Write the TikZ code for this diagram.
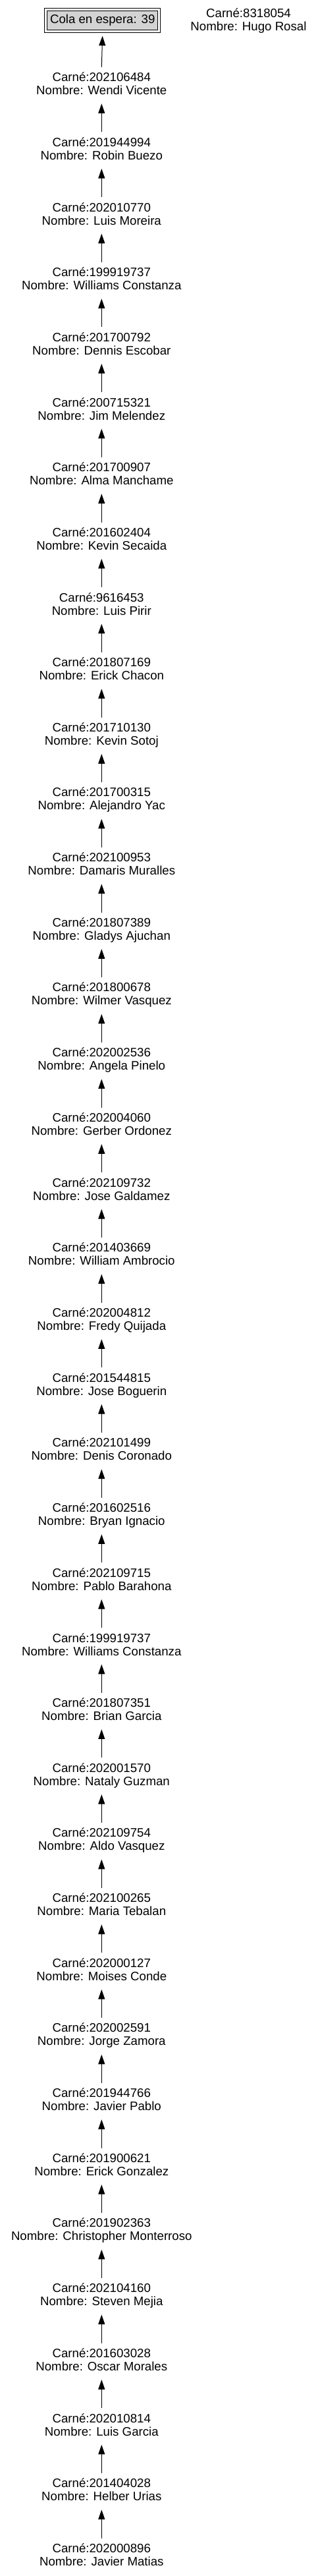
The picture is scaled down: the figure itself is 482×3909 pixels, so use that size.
\documentclass[tikz,border=0pt]{standalone}
\usepackage{fontspec}
\setmainfont{Liberation Sans}
\usetikzlibrary{arrows.meta}
\definecolor{boxgray}{HTML}{D3D3D3}
\newcommand\pline[1]{\rule[-2.5pt]{0pt}{15pt}#1}
\tikzset{
  txt/.style={font=\fontsize{14pt}{15pt}\selectfont},
  person/.style={txt, inner sep=0pt, minimum height=37.5pt, align=center},
  link/.style={-{Triangle[length=11pt,width=7.5pt]}, line width=0.75pt, shorten >=3.75pt},
  frame/.style={draw, line width=0.75pt, inner sep=0pt},
}
\begin{document}
\begin{tikzpicture}[x=0.75pt,y=-0.75pt]
\useasboundingbox (0,0) rectangle (482,3909);
\node[frame, minimum width=132pt, minimum height=27.5pt] (cola) at (155.8,30.7) {};
\node[frame, txt, fill=boxgray, minimum width=126pt, minimum height=21.5pt] (colain) at (cola.center) {Cola en espera: 39};
\node[person] (hugo) at (377.5,30) {\pline{Carné:8318054}\\\pline{Nombre: Hugo Rosal}};
\foreach \cid/\cname [count=\i] in {
202106484/Wendi Vicente,
201944994/Robin Buezo,
202010770/Luis Moreira,
199919737/Williams Constanza,
201700792/Dennis Escobar,
200715321/Jim Melendez,
201700907/Alma Manchame,
201602404/Kevin Secaida,
9616453/Luis Pirir,
201807169/Erick Chacon,
201710130/Kevin Sotoj,
201700315/Alejandro Yac,
202100953/Damaris Muralles,
201807389/Gladys Ajuchan,
201800678/Wilmer Vasquez,
202002536/Angela Pinelo,
202004060/Gerber Ordonez,
202109732/Jose Galdamez,
201403669/William Ambrocio,
202004812/Fredy Quijada,
201544815/Jose Boguerin,
202101499/Denis Coronado,
201602516/Bryan Ignacio,
202109715/Pablo Barahona,
199919737/Williams Constanza,
201807351/Brian Garcia,
202001570/Nataly Guzman,
202109754/Aldo Vasquez,
202100265/Maria Tebalan,
202000127/Moises Conde,
202002591/Jorge Zamora,
201944766/Javier Pablo,
201900621/Erick Gonzalez,
201902363/Christopher Monterroso,
202104160/Steven Mejia,
201603028/Oscar Morales,
202010814/Luis Garcia,
201404028/Helber Urias,
202000896/Javier Matias}
{
  \node[person] (n\i) at (154.3,{127+98.68*(\i-1)}) {\pline{Carné:\cid}\\\pline{Nombre: \cname}};
}
\draw[link] (n1.north) -- (cola.south);
\foreach \i [evaluate=\i as \j using int(\i-1)] in {2,...,39}
  \draw[link] (n\i.north) -- (n\j.south);
\end{tikzpicture}
\end{document}
